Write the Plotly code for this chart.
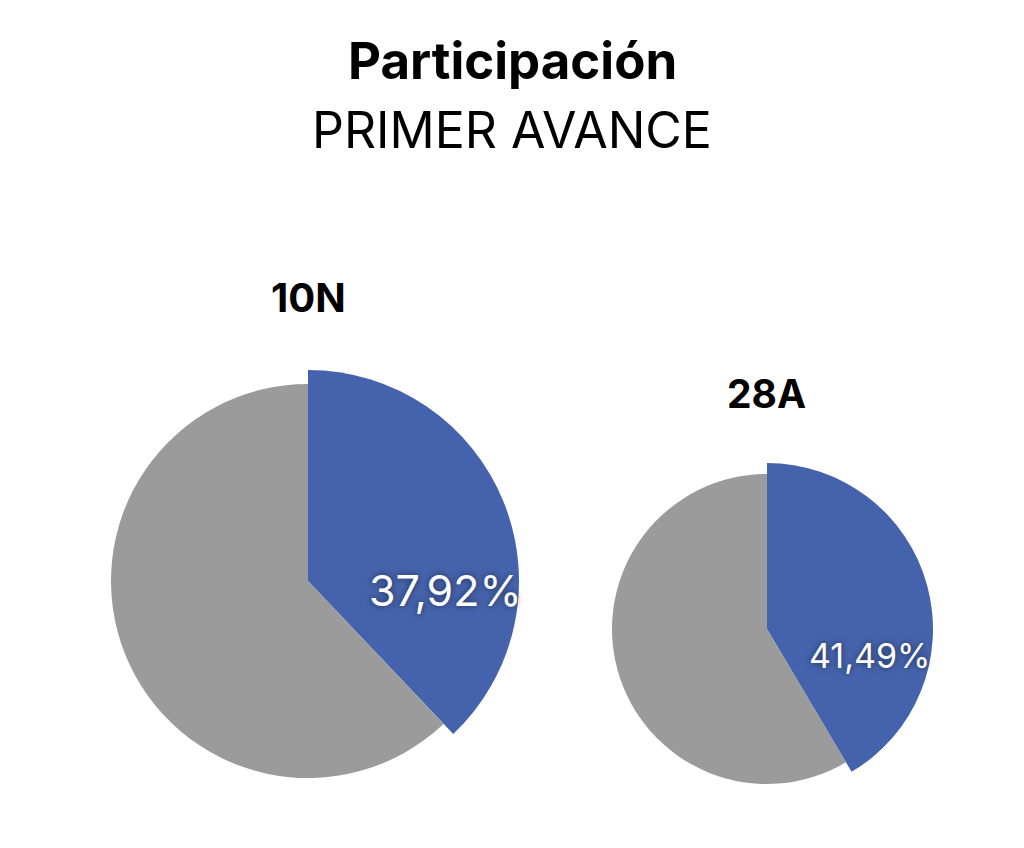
import plotly.graph_objects as go

# ---- data ----
elections = ["10N", "28A"]
participation = [37.92, 41.49]          # % turnout at first report
slice_names = ["Participación", "Resto"]
title = "Participación"
subtitle = "PRIMER AVANCE"

BLUE = "#4563AC"
GRAY = "#9B9B9B"
FONT = "Inter"

W, H = 1024, 848

# geometry (pixels): center x, center y, blue radius, gray radius
geo = [
    dict(cx=308, cy=581, rb=211, rg=197, lx=445, ly=590, lsize=43, tx=308, ty=297, tsize=40),
    dict(cx=767, cy=629, rb=166, rg=155, lx=869, ly=655, lsize=34, tx=766, ty=393, tsize=39),
]

def dom(cx, cy, r):
    return dict(x=[(cx - r) / W, (cx + r) / W], y=[1 - (cy + r) / H, 1 - (cy - r) / H])

fig = go.Figure()
annotations = []
for name, val, g in zip(elections, participation, geo):
    vals = [val, 100 - val]
    # larger pie: only the blue slice visible
    fig.add_trace(go.Pie(
        labels=slice_names, values=vals, sort=False, direction="clockwise", rotation=0,
        marker=dict(colors=[BLUE, "rgba(0,0,0,0)"], line=dict(width=0)),
        textinfo="none", hoverinfo="skip", showlegend=False,
        domain=dom(g["cx"], g["cy"], g["rb"]),
    ))
    # smaller pie: only the gray slice visible
    fig.add_trace(go.Pie(
        labels=slice_names, values=vals, sort=False, direction="clockwise", rotation=0,
        marker=dict(colors=["rgba(0,0,0,0)", GRAY], line=dict(width=0)),
        textinfo="none", hoverinfo="skip", showlegend=False,
        domain=dom(g["cx"], g["cy"], g["rg"]),
    ))
    annotations.append(dict(
        x=g["lx"] / W, y=1 - g["ly"] / H, xref="paper", yref="paper",
        text=f"{val:.2f}".replace(".", ",") + "%", showarrow=False,
        font=dict(family=FONT, size=g["lsize"], color="white",
                  shadow="0px 0px 6px rgba(0,0,0,0.55)"),
        xanchor="center", yanchor="middle",
    ))
    annotations.append(dict(
        x=g["tx"] / W, y=1 - g["ty"] / H, xref="paper", yref="paper",
        text=f"<b>{name}</b>", showarrow=False,
        font=dict(family=FONT, size=g["tsize"], color="black"),
        xanchor="center", yanchor="middle",
    ))

annotations.append(dict(x=0.5, y=1 - 60 / H, xref="paper", yref="paper",
                        text=f"<b>{title}</b>", showarrow=False,
                        font=dict(family=FONT, size=51, color="black"),
                        xanchor="center", yanchor="middle"))
annotations.append(dict(x=0.5, y=1 - 130 / H, xref="paper", yref="paper",
                        text=subtitle, showarrow=False,
                        font=dict(family=FONT, size=50, color="black"),
                        xanchor="center", yanchor="middle"))

fig.update_layout(
    width=W, height=H, margin=dict(l=0, r=0, t=0, b=0),
    paper_bgcolor="white", plot_bgcolor="white",
    annotations=annotations, showlegend=False,
)

fig.write_html("out.html")
